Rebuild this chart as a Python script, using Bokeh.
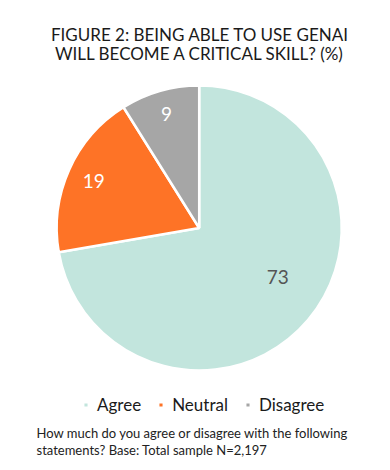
import math
from bokeh.plotting import figure
from bokeh.models import Range1d, Legend, LegendItem
from bokeh.core.properties import value
from bokeh.embed import file_html
from bokeh.resources import INLINE

# ---- data ----
categories = ["Agree", "Neutral", "Disagree"]
values = [73, 19, 9]
colors = ["#c2e5dd", "#fe7326", "#a6a6a6"]
label_colors = ["#555555", "#ffffff", "#ffffff"]
title_lines = ["FIGURE 2: BEING ABLE TO USE GENAI", "WILL BECOME A CRITICAL SKILL? (%)"]
footnote_lines = ["How much do you agree or disagree with the following",
                  "statements? Base: Total sample N=2,197"]

W, H = 390, 470
FONT = "Lato"

p = figure(width=W, height=H, output_backend="svg", toolbar_location=None,
           x_range=Range1d(0, W), y_range=Range1d(0, H),
           x_axis_location=None, y_axis_location=None, min_border=0)
p.grid.visible = False
p.outline_line_color = None
p.background_fill_color = "white"

cx, cy, R = 198.7, 242.5, 142.5
total = sum(values)
starts, ends, mids = [], [], []
acc = 0
for v in values:
    a0 = math.pi / 2 - 2 * math.pi * acc / total
    acc += v
    a1 = math.pi / 2 - 2 * math.pi * acc / total
    starts.append(a0)
    ends.append(a1)
    mids.append((a0 + a1) / 2)

renderers = []
for i in range(len(values)):
    r = p.wedge(x=cx, y=cy, radius=R, start_angle=starts[i], end_angle=ends[i],
                direction="clock", fill_color=colors[i], line_color="white", line_width=2.5)
    renderers.append(r)

# value labels
label_r = [0.65, 0.81, 0.83]
label_shift = [math.radians(8), 0, 0]
lx = [cx + R * label_r[i] * math.cos(mids[i] + label_shift[i]) for i in range(3)]
ly = [cy + R * label_r[i] * math.sin(mids[i] + label_shift[i]) for i in range(3)]
p.text(x=lx, y=ly, text=[str(v) for v in values], text_color=label_colors,
       text_font=value(FONT), text_font_size="19px", text_align="center", text_baseline="middle")

# title
p.text(x=[199.5, 199.5], y=[436, 417], text=title_lines, text_font=value(FONT),
       text_font_size="17px", text_color="#1a1a1a", text_align="center", text_baseline="alphabetic")

# footnote
p.text(x=[36, 36], y=[38, 21], text=footnote_lines, text_font=value(FONT),
       text_font_size="13px", text_color="#222222", text_align="left", text_baseline="alphabetic")

legend = Legend(items=[LegendItem(label=categories[i], renderers=[renderers[i]]) for i in range(3)],
                orientation="horizontal", location=(82, 55), padding=0, margin=0,
                spacing=16, glyph_width=7, glyph_height=7, label_standoff=8,
                label_text_font=FONT, label_text_font_size="17px", label_text_color="#1a1a1a",
                label_height=20, border_line_color=None, background_fill_alpha=0)
p.add_layout(legend, "center")

open("out.html", "w").write(file_html(p, INLINE))
